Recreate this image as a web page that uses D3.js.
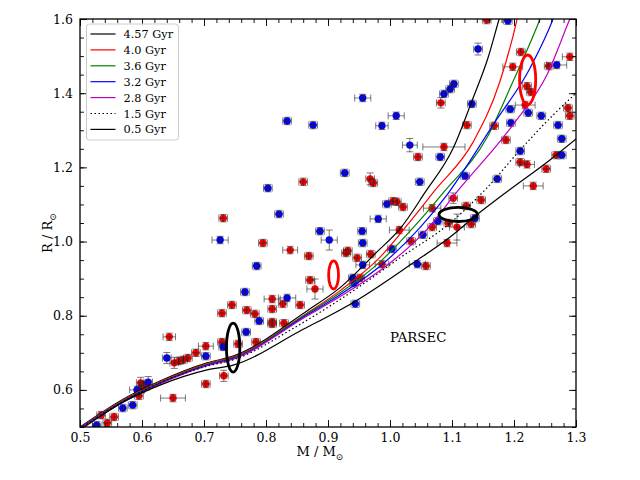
<!DOCTYPE html>
<html>
<head>
<meta charset="utf-8">
<script src="https://cdn.jsdelivr.net/npm/d3@7"></script>
<style>
  body { margin: 0; background: #fff; }
  svg text { font-family: "DejaVu Serif", serif; fill: #000; }
</style>
</head>
<body>
<svg id="chart" width="640" height="480"></svg>
<script>
// isochrones [mass, radius]
const iso457 = [[0.5,0.5],[0.576,0.581],[0.629,0.624],[0.705,0.673],[0.747,0.691],[0.866,0.813],[0.919,0.875],[0.979,0.972],[1.016,1.034],[1.056,1.131],[1.102,1.252],[1.134,1.387],[1.158,1.495],[1.176,1.6],[1.19,1.68]];
const iso40 = [[0.5,0.499],[0.576,0.579],[0.629,0.622],[0.705,0.671],[0.747,0.689],[0.866,0.807],[0.919,0.867],[0.984,0.958],[1.032,1.053],[1.073,1.139],[1.134,1.268],[1.177,1.43],[1.205,1.6],[1.215,1.68]];
const iso36 = [[0.5,0.498],[0.576,0.577],[0.629,0.62],[0.705,0.669],[0.747,0.687],[0.866,0.805],[0.919,0.861],[0.987,0.95],[1.04,1.042],[1.087,1.134],[1.156,1.279],[1.198,1.43],[1.242,1.6],[1.26,1.68]];
const iso32 = [[0.5,0.497],[0.576,0.575],[0.629,0.618],[0.705,0.667],[0.747,0.685],[0.866,0.802],[0.919,0.856],[0.992,0.945],[1.048,1.037],[1.092,1.126],[1.166,1.314],[1.226,1.468],[1.263,1.6],[1.28,1.68]];
const iso28 = [[0.5,0.496],[0.576,0.573],[0.629,0.616],[0.705,0.665],[0.747,0.683],[0.866,0.799],[0.919,0.851],[1.0,0.942],[1.056,1.026],[1.108,1.134],[1.198,1.314],[1.253,1.449],[1.29,1.6],[1.31,1.68]];
const iso15 = [[0.5,0.495],[0.576,0.575],[0.629,0.619],[0.705,0.664],[0.747,0.681],[0.85,0.772],[0.952,0.88],[1.016,0.956],[1.097,1.05],[1.156,1.144],[1.21,1.247],[1.263,1.341],[1.302,1.403]];
const iso05 = [[0.5,0.492],[0.576,0.573],[0.629,0.613],[0.705,0.654],[0.747,0.667],[0.855,0.759],[0.947,0.842],[1.037,0.942],[1.097,1.012],[1.14,1.072],[1.182,1.126],[1.258,1.22],[1.302,1.279]];

const ageLabels = ["4.57 Gyr","4.0 Gyr","3.6 Gyr","3.2 Gyr","2.8 Gyr","1.5 Gyr","0.5 Gyr"];
const ageColors = ["#000000","#ff0000","#008000","#0000ff","#bf00bf","#000000","#000000"];
const ageDash = [null,null,null,null,null,"1.5,2.5",null];

// stars [mass, radius, mass error, radius error]
const redStars = [
  [1.156,1.597,0.007,0.01],[1.211,1.511,0.007,0.01],[1.29,1.498,0.012,0.01],[1.198,1.471,0.016,0.01],
  [1.256,1.473,0.007,0.01],[1.221,1.419,0.007,0.01],[1.227,1.403,0.007,0.01],[1.218,1.368,0.016,0.01],
  [1.082,1.374,0.007,0.014],[1.124,1.314,0.007,0.01],[1.168,1.312,0.007,0.01],[1.287,1.36,0.007,0.01],
  [1.29,1.339,0.007,0.01],[1.187,1.274,0.007,0.01],[1.21,1.214,0.007,0.01],[1.221,1.208,0.012,0.01],
  [1.268,1.233,0.007,0.01],[1.252,1.196,0.007,0.01],[1.231,1.15,0.016,0.01],[1.087,1.255,0.034,0.01],
  [1.045,1.228,0.007,0.01],[0.968,1.169,0.007,0.016],[0.973,1.158,0.007,0.01],[1.147,1.112,0.007,0.01],
  [1.102,1.117,0.007,0.014],[1.005,1.109,0.007,0.01],[1.011,1.107,0.007,0.01],[1.021,1.093,0.007,0.01],
  [1.123,1.096,0.007,0.01],[1.068,1.09,0.014,0.01],[1.094,1.05,0.007,0.01],[1.108,1.039,0.012,0.035],
  [1.131,1.047,0.007,0.01],[1.015,1.031,0.016,0.01],[1.068,1.039,0.007,0.01],[1.034,1.001,0.007,0.01],
  [1.092,0.996,0.016,0.01],[0.932,0.975,0.007,0.01],[0.929,0.969,0.007,0.01],[0.947,0.956,0.007,0.01],
  [0.969,0.966,0.007,0.01],[0.987,0.939,0.011,0.01],[1.058,0.934,0.007,0.01],[0.952,0.902,0.007,0.01],
  [0.86,1.161,0.007,0.01],[0.731,1.063,0.007,0.01],[0.795,0.996,0.007,0.01],[0.839,0.977,0.012,0.01],
  [0.869,0.961,0.007,0.01],[0.871,0.896,0.007,0.01],[0.879,0.872,0.013,0.027],[0.81,0.845,0.013,0.01],
  [0.855,0.829,0.007,0.01],[0.745,0.829,0.007,0.01],[0.729,0.807,0.007,0.01],[0.769,0.815,0.007,0.01],
  [0.782,0.805,0.007,0.01],[0.81,0.818,0.007,0.01],[0.81,0.783,0.007,0.01],[0.81,0.778,0.007,0.01],
  [0.827,0.832,0.007,0.01],[0.829,0.78,0.007,0.01],[0.644,0.743,0.01,0.01],[0.729,0.729,0.007,0.01],
  [0.755,0.724,0.007,0.01],[0.784,0.729,0.007,0.01],[0.703,0.718,0.012,0.01],[0.687,0.7,0.007,0.01],
  [0.674,0.686,0.007,0.01],[0.666,0.681,0.007,0.01],[0.66,0.678,0.007,0.01],[0.652,0.673,0.007,0.015],
  [0.732,0.638,0.007,0.015],[0.703,0.616,0.007,0.01],[0.65,0.578,0.02,0.01],[0.598,0.619,0.007,0.015],
  [0.602,0.613,0.007,0.01],[0.606,0.608,0.007,0.01],[0.598,0.602,0.007,0.01],[0.595,0.584,0.007,0.01],
  [0.555,0.527,0.007,0.01],[0.534,0.532,0.007,0.01],[0.544,0.511,0.007,0.01]
];
const blueStars = [
  [1.19,1.595,0.007,0.01],[1.142,1.519,0.007,0.016],[1.269,1.476,0.016,0.01],[1.194,1.357,0.007,0.01],
  [1.223,1.347,0.007,0.01],[1.244,1.339,0.007,0.01],[1.103,1.425,0.007,0.01],[1.097,1.411,0.007,0.01],
  [1.087,1.398,0.007,0.01],[1.132,1.371,0.007,0.01],[1.195,1.32,0.007,0.01],[1.271,1.314,0.007,0.01],
  [1.277,1.277,0.007,0.01],[1.21,1.244,0.007,0.01],[1.277,1.233,0.007,0.01],[1.173,1.169,0.007,0.01],
  [1.121,1.177,0.007,0.01],[1.081,1.228,0.007,0.01],[1.032,1.26,0.012,0.018],[0.956,1.387,0.013,0.01],
  [1.01,1.339,0.013,0.01],[0.987,1.312,0.01,0.01],[0.834,1.325,0.007,0.01],[0.876,1.314,0.007,0.01],
  [0.927,1.185,0.007,0.01],[1.048,1.161,0.007,0.01],[0.995,1.101,0.007,0.01],[0.981,1.061,0.013,0.01],
  [1.077,1.055,0.007,0.01],[1.137,1.063,0.007,0.01],[0.955,1.028,0.007,0.01],[0.956,0.996,0.007,0.01],
  [1.053,1.018,0.007,0.01],[1.003,0.98,0.007,0.01],[0.956,0.937,0.011,0.01],[1.044,0.939,0.013,0.01],
  [0.94,0.902,0.007,0.01],[0.942,0.888,0.007,0.01],[0.944,0.832,0.007,0.01],[0.803,1.144,0.007,0.01],
  [0.821,1.074,0.007,0.01],[0.726,1.004,0.013,0.01],[0.887,1.028,0.007,0.01],[0.902,1.004,0.013,0.027],
  [0.785,0.934,0.007,0.01],[0.766,0.864,0.007,0.01],[0.834,0.848,0.014,0.01],[0.789,0.786,0.007,0.01],
  [0.768,0.756,0.007,0.01],[0.731,0.716,0.007,0.01],[0.703,0.691,0.007,0.01],[0.64,0.686,0.007,0.015],
  [0.61,0.621,0.007,0.015],[0.592,0.6,0.012,0.01],[0.585,0.559,0.007,0.01],[0.569,0.551,0.007,0.01],
  [0.527,0.505,0.007,0.01]
];

// ellipses [mass, radius, half-width in mass, half-height in radius, colour]
const ellipses = [
  [0.747,0.714,0.0108,0.066,"#000000"],
  [0.909,0.910,0.008,0.038,"#ff0000"],
  [1.222,1.436,0.013,0.067,"#ff0000"],
  [1.110,1.073,0.031,0.019,"#000000"]
];

const massTicks = [0.5,0.6,0.7,0.8,0.9,1.0,1.1,1.2,1.3];
const massMinor = d3.range(25,66,1).map(d => d / 50);
const radiusTicks = [0.6,0.8,1.0,1.2,1.4,1.6];
const radiusMinor = d3.range(10,33,1).map(d => d / 20);

const margin = {top: 19, right: 64, bottom: 53, left: 80};
const width = 640 - margin.left - margin.right;
const height = 480 - margin.top - margin.bottom;

const svg = d3.select('#chart');
const g = svg.append('g').attr('transform', `translate(${margin.left},${margin.top})`);

const x = d3.scaleLinear().domain([0.5, 1.3]).range([0, width]);
const y = d3.scaleLinear().domain([0.5, 1.6]).range([height, 0]);

g.append('clipPath').attr('id', 'plot-clip')
  .append('rect').attr('width', width).attr('height', height);

const plot = g.append('g').attr('clip-path', 'url(#plot-clip)');

// markers then error bars on top
function drawStars(stars, colour) {
  plot.append('g').selectAll('circle')
    .data(stars).join('circle')
    .attr('cx', d => x(d[0])).attr('cy', d => y(d[1]))
    .attr('r', 3.7).attr('fill', colour);

  const bars = plot.append('g').attr('stroke', '#222').attr('stroke-width', 0.6).attr('fill', 'none');
  stars.forEach(d => {
    const cx = x(d[0]), cy = y(d[1]);
    const x0 = x(d[0] - d[2]), x1 = x(d[0] + d[2]);
    const y0 = y(d[1] - d[3]), y1 = y(d[1] + d[3]);
    bars.append('path').attr('d',
      `M${x0},${cy}H${x1}M${cx},${y0}V${y1}` +
      `M${x0},${cy - 3.5}V${cy + 3.5}M${x1},${cy - 3.5}V${cy + 3.5}` +
      `M${cx - 3.5},${y0}H${cx + 3.5}M${cx - 3.5},${y1}H${cx + 3.5}`);
  });
}
drawStars(redStars, '#ff0000');
drawStars(blueStars, '#0000ff');

// isochrones
const isochrones = [iso457, iso40, iso36, iso32, iso28, iso15, iso05];
const line = d3.line().x(d => x(d[0])).y(d => y(d[1])).curve(d3.curveMonotoneX);
isochrones.forEach((iso, i) => {
  plot.append('path')
    .attr('d', line(iso))
    .attr('fill', 'none')
    .attr('stroke', ageColors[i])
    .attr('stroke-width', 1.2)
    .attr('stroke-dasharray', ageDash[i]);
});

// ellipses
plot.append('g').selectAll('ellipse')
  .data(ellipses).join('ellipse')
  .attr('cx', d => x(d[0])).attr('cy', d => y(d[1]))
  .attr('rx', d => x(d[0] + d[2]) - x(d[0]))
  .attr('ry', d => y(d[1]) - y(d[1] + d[3]))
  .attr('fill', 'none').attr('stroke', d => d[4]).attr('stroke-width', 2.8);

g.append('text')
  .attr('x', x(1.0)).attr('y', y(0.729))
  .attr('font-size', 13.3)
  .text('PARSEC');

// axes with inward ticks
function styleAxis(sel) {
  sel.select('.domain').remove();
  sel.selectAll('line').attr('stroke', '#000').attr('stroke-width', 0.9);
  sel.selectAll('text').attr('font-family', '"DejaVu Serif", serif').attr('font-size', 12.5);
}

g.append('g').attr('transform', `translate(0,${height})`)
  .call(d3.axisBottom(x).tickValues(massMinor).tickSize(-4).tickFormat(''))
  .call(styleAxis);
g.append('g').attr('transform', `translate(0,${height})`)
  .call(d3.axisBottom(x).tickValues(massTicks).tickSize(-7).tickPadding(6).tickFormat(d3.format('.1f')))
  .call(styleAxis);
g.append('g')
  .call(d3.axisTop(x).tickValues(massMinor).tickSize(-4).tickFormat(''))
  .call(styleAxis);
g.append('g')
  .call(d3.axisTop(x).tickValues(massTicks).tickSize(-7).tickFormat(''))
  .call(styleAxis);

g.append('g')
  .call(d3.axisLeft(y).tickValues(radiusMinor).tickSize(-4).tickFormat(''))
  .call(styleAxis);
g.append('g')
  .call(d3.axisLeft(y).tickValues(radiusTicks).tickSize(-7).tickPadding(7).tickFormat(d3.format('.1f')))
  .call(styleAxis);
g.append('g').attr('transform', `translate(${width},0)`)
  .call(d3.axisRight(y).tickValues(radiusMinor).tickSize(-4).tickFormat(''))
  .call(styleAxis);
g.append('g').attr('transform', `translate(${width},0)`)
  .call(d3.axisRight(y).tickValues(radiusTicks).tickSize(-7).tickFormat(''))
  .call(styleAxis);

g.append('rect')
  .attr('width', width).attr('height', height)
  .attr('fill', 'none').attr('stroke', '#000').attr('stroke-width', 1.3);

// axis titles
const xTitle = svg.append('text')
  .attr('x', margin.left + width / 2 - 8).attr('y', 456)
  .attr('text-anchor', 'middle').attr('font-size', 13);
xTitle.append('tspan').text('M / M');
xTitle.append('tspan').attr('dy', 4).attr('font-size', 9).text('⊙');

const yTitle = svg.append('text')
  .attr('transform', `translate(52,${margin.top + height / 2 + 10}) rotate(-90)`)
  .attr('text-anchor', 'middle').attr('font-size', 13);
yTitle.append('tspan').text('R / R');
yTitle.append('tspan').attr('dy', 4).attr('font-size', 9).text('⊙');

// legend
const legend = g.append('g').attr('transform', 'translate(6.5,5)');
legend.append('rect')
  .attr('width', 92).attr('height', 116).attr('rx', 3)
  .attr('fill', '#fff').attr('fill-opacity', 0.8)
  .attr('stroke', '#cccccc').attr('stroke-width', 1);
ageLabels.forEach((label, i) => {
  const row = legend.append('g').attr('transform', `translate(0,${10 + i * 15.9})`);
  row.append('line')
    .attr('x1', 4).attr('x2', 29).attr('y1', 0).attr('y2', 0)
    .attr('stroke', ageColors[i]).attr('stroke-width', 1.2)
    .attr('stroke-dasharray', ageDash[i]);
  row.append('text')
    .attr('x', 37).attr('y', 4)
    .attr('font-size', 11.3)
    .text(label);
});
</script>
</body>
</html>
